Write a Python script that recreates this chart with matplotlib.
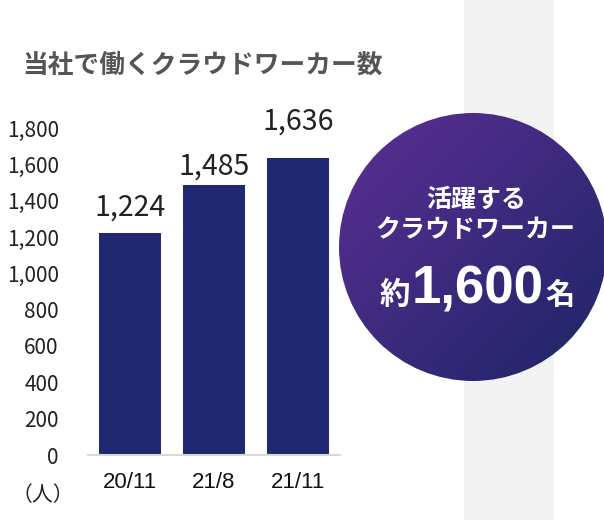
import matplotlib
matplotlib.use('Agg')
import matplotlib.pyplot as plt
import matplotlib.patches as patches
import numpy as np
from matplotlib.offsetbox import TextArea, HPacker, AnnotationBbox

plt.rcParams['font.family'] = ['Noto Sans CJK JP', 'DejaVu Sans']

# data
categories = ['20/11', '21/8', '21/11']
workers = [1224, 1485, 1636]
y_ticks = [0, 200, 400, 600, 800, 1000, 1200, 1400, 1600, 1800]

title = '当社で働くクラウドワーカー数'
unit_label = '（人）'
badge_lines = ['活躍する', 'クラウドワーカー']
badge_prefix, badge_number, badge_suffix = '約', '1,600', '名'

# label offsets above each bar (points), as placed in the original
label_offsets = [12, 8, 20]

BAR_COLOR = '#1f2870'
W, H = 604, 520

fig = plt.figure(figsize=(W / 100, H / 100), dpi=100)
fig.patch.set_facecolor('white')

# background layer in pixel coordinates
bg = fig.add_axes([0, 0, 1, 1])
bg.set_xlim(0, W)
bg.set_ylim(H, 0)
bg.axis('off')

# gray band on the right
bg.add_patch(patches.Rectangle((464, 0), 90, H, facecolor='#f3f3f3',
                               edgecolor='none', zorder=0))

# gradient circle
cx, cy, r = 473, 247, 134
circle = patches.Circle((cx, cy), r, transform=bg.transData,
                        facecolor='none', edgecolor='none')
bg.add_patch(circle)
n = 256
gx, gy = np.meshgrid(np.linspace(0, 1, n), np.linspace(0, 1, n))
t = np.clip((gx + gy) / 2, 0, 1)
c0 = np.array([0x5d, 0x2f, 0x95]) / 255
c1 = np.array([0x1c, 0x25, 0x66]) / 255
grad = c0[None, None, :] * (1 - t[..., None]) + c1[None, None, :] * t[..., None]
img = bg.imshow(grad, extent=(cx - r, cx + r, cy + r, cy - r),
                origin='upper', zorder=1, interpolation='bilinear')
img.set_clip_path(circle)
bg.set_xlim(0, W)
bg.set_ylim(H, 0)

# badge text
bg.text(cx + 3, 200, badge_lines[0], color='white', fontsize=18,
        fontweight='bold', ha='center', va='center', zorder=3)
bg.text(cx + 2, 230, badge_lines[1], color='white', fontsize=18,
        fontweight='bold', ha='center', va='center', zorder=3)
parts = HPacker(children=[
    TextArea(badge_prefix, textprops=dict(color='white', fontsize=22, fontweight='bold')),
    TextArea(badge_number, textprops=dict(color='white', fontsize=38, fontweight='bold',
                                          family=['Liberation Sans', 'DejaVu Sans'])),
    TextArea(badge_suffix, textprops=dict(color='white', fontsize=21, fontweight='bold')),
], align='baseline', pad=0, sep=1)
ab = AnnotationBbox(parts, (cx + 4, 290), xycoords='data', frameon=False,
                    box_alignment=(0.5, 0.5), zorder=3)
bg.add_artist(ab)

# title
fig.text(22 / W, 1 - 65 / H, title, fontsize=18.5, fontweight='bold',
         color='#555555', ha='left', va='center')

# bar chart
ax = fig.add_axes([88 / W, (H - 455) / H, 252 / W, 327 / H])
ax.patch.set_alpha(0)
x = np.arange(len(categories))
bars = ax.bar(x, workers, width=0.74, color=BAR_COLOR, zorder=2)
ax.set_xlim(-0.5, len(categories) - 0.5)
ax.set_ylim(0, 1800)
ax.set_yticks(y_ticks)
ax.set_yticklabels([f'{v:,}' for v in y_ticks], fontsize=15, color='#222222')
ax.set_xticks(x)
ax.set_xticklabels(categories, fontsize=16, color='#111111',
                   family=['Liberation Sans', 'DejaVu Sans'])
ax.tick_params(axis='y', length=0, pad=21)
ax.tick_params(axis='x', length=0, pad=12)
for side in ['top', 'right', 'left']:
    ax.spines[side].set_visible(False)
ax.spines['bottom'].set_color('#d9d9d9')
ax.spines['bottom'].set_linewidth(1.5)

for rect, v, off in zip(bars, workers, label_offsets):
    ax.annotate(f'{v:,}', (rect.get_x() + rect.get_width() / 2, v),
                xytext=(0, off), textcoords='offset points', ha='center',
                va='baseline', fontsize=20.5, color='#222222',
                annotation_clip=False)

fig.text(43 / W, 1 - 495 / H, unit_label, fontsize=15, color='#222222',
         ha='center', va='center')

fig.savefig('out.png', dpi=100)
